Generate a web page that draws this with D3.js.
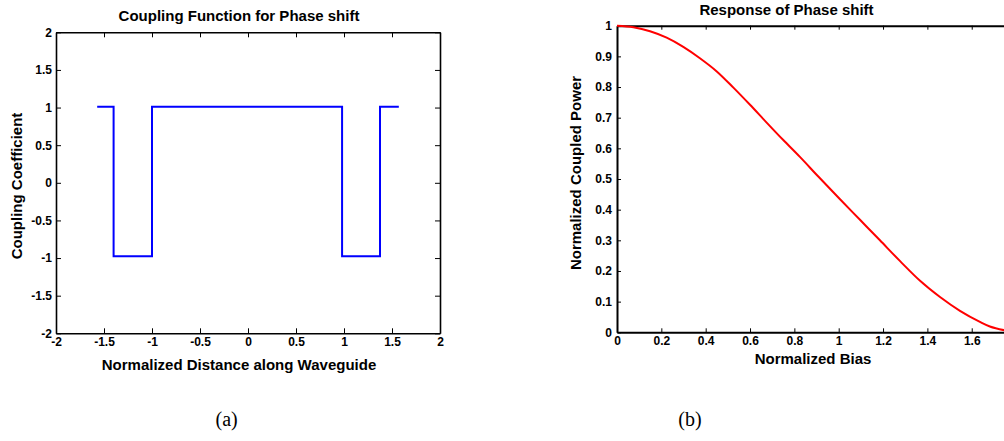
<!DOCTYPE html>
<html>
<head>
<meta charset="utf-8">
<script src="https://cdn.jsdelivr.net/npm/d3@7"></script>
<style>
  body { margin: 0; background: #fff; }
  text { font-family: "Liberation Sans", Arial, sans-serif; font-weight: bold; }
  .cap { font-family: "Liberation Serif", "Times New Roman", serif; font-weight: normal; }
</style>
</head>
<body>
<div id="chart"></div>
<script>
// (a) coupling function: break points along the guide and the level between them
const stepX = [-1.571, -1.40, -1.00, 0.98, 1.375, 1.571];
const stepY = [1.01, -0.975, 1.01, -0.975, 1.01];
const ticksA = [-2, -1.5, -1, -0.5, 0, 0.5, 1, 1.5, 2];

// (b) response curve
const biasX = [0, 0.074, 0.149, 0.224, 0.299, 0.374, 0.45, 0.525, 0.6, 0.675, 0.75,
               0.825, 0.908, 1.006, 1.096, 1.186, 1.277, 1.367, 1.457, 1.547, 1.637, 1.682, 1.746];
const powerY = [1.0, 0.995, 0.982, 0.961, 0.931, 0.894, 0.851, 0.798, 0.742, 0.684, 0.627,
                0.572, 0.508, 0.434, 0.367, 0.300, 0.232, 0.168, 0.115, 0.070, 0.034, 0.019, 0.007];
const ticksBx = [0, 0.2, 0.4, 0.6, 0.8, 1, 1.2, 1.4, 1.6];
const ticksBy = [0, 0.1, 0.2, 0.3, 0.4, 0.5, 0.6, 0.7, 0.8, 0.9, 1];

const fmt = d => String(d);   // plain "-0.5", "1", "0.2" like the original

const svg = d3.select("#chart").append("svg")
  .attr("width", 1004).attr("height", 441);

function styleAxis(g, sw) {
  g.selectAll("path.domain").attr("stroke", "#000").attr("stroke-width", sw);
  g.selectAll(".tick line").attr("stroke", "#000").attr("stroke-width", 1);
  g.selectAll(".tick text").attr("font-size", "12px").attr("font-weight", "bold")
    .attr("font-family", "'Liberation Sans', Arial, sans-serif").attr("fill", "#000");
}

// ---------- (a) ----------
const xa = d3.scaleLinear().domain([-2, 2]).range([56, 440]);
const ya = d3.scaleLinear().domain([-2, 2]).range([333.3, 32.3]);

svg.append("g").attr("transform", `translate(0,${ya(-2)})`)
  .call(d3.axisBottom(xa).tickValues(ticksA).tickFormat(fmt).tickSizeInner(-5).tickSizeOuter(0).tickPadding(4))
  .call(g => styleAxis(g, 1.6));
svg.append("g").attr("transform", `translate(0,${ya(2)})`)
  .call(d3.axisTop(xa).tickValues(ticksA).tickFormat("").tickSizeInner(-5).tickSizeOuter(0))
  .call(g => styleAxis(g, 1.6));
svg.append("g").attr("transform", `translate(${xa(-2)},0)`)
  .call(d3.axisLeft(ya).tickValues(ticksA).tickFormat(fmt).tickSizeInner(-5).tickSizeOuter(0).tickPadding(4))
  .call(g => styleAxis(g, 1.6));
svg.append("g").attr("transform", `translate(${xa(2)},0)`)
  .call(d3.axisRight(ya).tickValues(ticksA).tickFormat("").tickSizeInner(-5).tickSizeOuter(0))
  .call(g => styleAxis(g, 1.6));

const stepPts = stepY.map((v, i) => [stepX[i], v]);
stepPts.push([stepX[stepX.length - 1], stepY[stepY.length - 1]]);
svg.append("path")
  .datum(stepPts)
  .attr("fill", "none").attr("stroke", "#0000ff").attr("stroke-width", 2)
  .attr("d", d3.line().x(d => xa(d[0])).y(d => ya(d[1])).curve(d3.curveStepAfter));

svg.append("text").attr("x", 239).attr("y", 21).attr("text-anchor", "middle")
  .attr("font-size", "15px").text("Coupling Function for Phase shift");
svg.append("text").attr("x", 239).attr("y", 370).attr("text-anchor", "middle")
  .attr("font-size", "15px").text("Normalized Distance along Waveguide");
svg.append("text").attr("transform", "translate(21.5,186) rotate(-90)").attr("text-anchor", "middle")
  .attr("font-size", "15px").text("Coupling Coefficient");

// ---------- (b) ----------
const xb = d3.scaleLinear().domain([0, 1.8]).range([617, 617 + 1.8 * 221.7]);
const yb = d3.scaleLinear().domain([0, 1]).range([332.3, 25.7]);

svg.append("g").attr("transform", `translate(0,${yb(0)})`)
  .call(d3.axisBottom(xb).tickValues(ticksBx).tickFormat(fmt).tickSizeInner(-4).tickSizeOuter(0).tickPadding(4))
  .call(g => styleAxis(g, 2));
svg.append("g").attr("transform", `translate(0,${yb(1)})`)
  .call(d3.axisTop(xb).tickValues(ticksBx).tickFormat("").tickSizeInner(-4).tickSizeOuter(0))
  .call(g => styleAxis(g, 2));
svg.append("g").attr("transform", `translate(${xb(0)},0)`)
  .call(d3.axisLeft(yb).tickValues(ticksBy).tickFormat(fmt).tickSizeInner(-4).tickSizeOuter(0).tickPadding(5))
  .call(g => styleAxis(g, 2));

svg.append("path")
  .datum(biasX.map((x, i) => [x, powerY[i]]))
  .attr("fill", "none").attr("stroke", "#ff0000").attr("stroke-width", 2)
  .attr("d", d3.line().x(d => xb(d[0])).y(d => yb(d[1])).curve(d3.curveMonotoneX));

svg.append("text").attr("x", 786.5).attr("y", 15).attr("text-anchor", "middle")
  .attr("font-size", "15px").text("Response of Phase shift");
svg.append("text").attr("x", 813).attr("y", 364).attr("text-anchor", "middle")
  .attr("font-size", "15px").text("Normalized Bias");
svg.append("text").attr("transform", "translate(580.5,173) rotate(-90)").attr("text-anchor", "middle")
  .attr("font-size", "15px").text("Normalized Coupled Power");

// captions
svg.append("text").attr("class", "cap").attr("x", 226.6).attr("y", 426).attr("text-anchor", "middle")
  .attr("font-size", "20px").text("(a)");
svg.append("text").attr("class", "cap").attr("x", 690).attr("y", 426).attr("text-anchor", "middle")
  .attr("font-size", "20px").text("(b)");
</script>
</body>
</html>
